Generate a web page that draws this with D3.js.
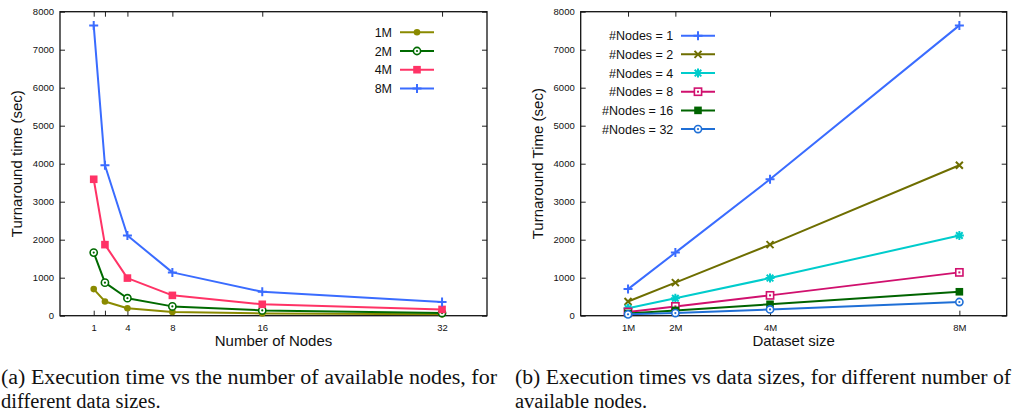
<!DOCTYPE html>
<html>
<head>
<meta charset="utf-8">
<script src="https://cdn.jsdelivr.net/npm/d3@7"></script>
<style>
  html, body { margin: 0; padding: 0; background: #fff; }
  svg { display: block; }
  .tick text { font-family: "Liberation Sans", Arial, sans-serif; }
</style>
</head>
<body>
<svg id="fig" width="1014" height="416"></svg>
<script>
// Cluster scaling measurements: turnaround time (sec) per dataset size and node count
const nodeCounts = [1, 2, 4, 8, 16, 32];
const datasetSizes = ["1M", "2M", "4M", "8M"];
const datasetSizeValues = [1, 2, 4, 8];
const time1M = [700, 375, 195, 100, 60, 35];
const time2M = [1660, 870, 460, 245, 140, 70];
const time4M = [3590, 1870, 990, 535, 300, 165];
const time8M = [7640, 3960, 2110, 1140, 630, 360];
const yTicks = [0, 1000, 2000, 3000, 4000, 5000, 6000, 7000, 8000];
const nodeTicks = [1, 2, 4, 8, 16, 32];
const nodeTickLabels = ["1", "", "4", "8", "16", "32"];
const sizeTickLabels = ["1M", "2M", "4M", "8M"];
const nodeLegendLabels = ["#Nodes = 1", "#Nodes = 2", "#Nodes = 4", "#Nodes = 8", "#Nodes = 16", "#Nodes = 32"];
const captionA = ["(a) Execution time vs the number of available nodes, for", "different data sizes."];
const captionB = ["(b) Execution times vs data sizes, for different number of", "available nodes."];

const timesBySize = [time1M, time2M, time4M, time8M];

const svg = d3.select("#fig");
const SANS = "'Liberation Sans', Arial, Helvetica, sans-serif";

// Marker symbols in the gnuplot style
function drawMarker(g, kind, x, y, color) {
  const s = g.append("g").attr("transform", `translate(${x},${y})`);
  if (kind === "dot") {
    s.append("circle").attr("r", 3.3).attr("fill", color);
  } else if (kind === "circleDot") {
    s.append("circle").attr("r", 3.6).attr("fill", "#fff").attr("stroke", color).attr("stroke-width", 1.6);
    s.append("circle").attr("r", 1.1).attr("fill", color);
  } else if (kind === "square") {
    s.append("rect").attr("x", -3.8).attr("y", -3.8).attr("width", 7.6).attr("height", 7.6).attr("fill", color);
  } else if (kind === "squareDot") {
    s.append("rect").attr("x", -3.6).attr("y", -3.6).attr("width", 7.2).attr("height", 7.2)
      .attr("fill", "#fff").attr("stroke", color).attr("stroke-width", 1.6);
    s.append("rect").attr("x", -1).attr("y", -1).attr("width", 2).attr("height", 2).attr("fill", color);
  } else if (kind === "plus") {
    s.append("path").attr("d", "M-4.5,0H4.5M0,-4.5V4.5").attr("stroke", color).attr("stroke-width", 2);
  } else if (kind === "cross") {
    s.append("path").attr("d", "M-3.5,-3.5L3.5,3.5M-3.5,3.5L3.5,-3.5").attr("stroke", color).attr("stroke-width", 2);
  } else if (kind === "star") {
    s.append("path").attr("d", "M-4.5,0H4.5M0,-4.5V4.5M-3.3,-3.3L3.3,3.3M-3.3,3.3L3.3,-3.3")
      .attr("stroke", color).attr("stroke-width", 2);
  }
}

function drawPanel(cfg) {
  const g = svg.append("g");
  const x = d3.scaleLinear().domain(cfg.xDomain).range([cfg.left, cfg.right]);
  const y = d3.scaleLinear().domain([0, 8000]).range([cfg.bottom, cfg.top]);
  const tickLen = 5;

  // axes: labelled on bottom/left, mirrored tick marks on top/right
  const fmtX = d => cfg.xLabels[cfg.xTicks.indexOf(d)];
  const gx = g.append("g").attr("transform", `translate(0,${cfg.bottom})`)
    .call(d3.axisBottom(x).tickValues(cfg.xTicks).tickFormat(fmtX).tickSizeInner(-tickLen).tickSizeOuter(0).tickPadding(9));
  const gxt = g.append("g").attr("transform", `translate(0,${cfg.top})`)
    .call(d3.axisTop(x).tickValues(cfg.xTicks).tickFormat("").tickSizeInner(-tickLen).tickSizeOuter(0));
  const gy = g.append("g").attr("transform", `translate(${cfg.left},0)`)
    .call(d3.axisLeft(y).tickValues(yTicks).tickFormat(d3.format("d")).tickSizeInner(-tickLen).tickSizeOuter(0).tickPadding(6));
  const gyr = g.append("g").attr("transform", `translate(${cfg.right},0)`)
    .call(d3.axisRight(y).tickValues(yTicks).tickFormat("").tickSizeInner(-tickLen).tickSizeOuter(0));
  [gx, gxt, gy, gyr].forEach(a => {
    a.select(".domain").remove();
    a.selectAll(".tick line").attr("stroke", "#222").attr("stroke-width", 1);
    a.selectAll(".tick text").attr("font-size", 9.5).attr("fill", "#111").attr("font-family", SANS);
  });

  // frame
  g.append("rect").attr("x", cfg.left).attr("y", cfg.top)
    .attr("width", cfg.right - cfg.left).attr("height", cfg.bottom - cfg.top)
    .attr("fill", "none").attr("stroke", "#111").attr("stroke-width", 1.3);

  // axis titles
  g.append("text").attr("x", (cfg.left + cfg.right) / 2).attr("y", 346)
    .attr("text-anchor", "middle").attr("font-family", SANS).attr("font-size", 15).attr("fill", "#111")
    .text(cfg.xTitle);
  g.append("text").attr("transform", `translate(${cfg.yTitleX},${(cfg.top + cfg.bottom) / 2}) rotate(-90)`)
    .attr("text-anchor", "middle").attr("font-family", SANS).attr("font-size", 15).attr("fill", "#111")
    .text(cfg.yTitle);

  // series
  const line = d3.line().x(d => x(d[0])).y(d => y(d[1]));
  cfg.series.forEach(s => {
    g.append("path").datum(s.points).attr("d", line)
      .attr("fill", "none").attr("stroke", s.color).attr("stroke-width", 2).attr("stroke-linejoin", "round");
    s.points.forEach(p => drawMarker(g, s.marker, x(p[0]), y(p[1]), s.color));
  });

  // legend
  cfg.series.forEach((s, i) => {
    const ly = cfg.legend.y0 + i * cfg.legend.dy;
    g.append("text").attr("x", cfg.legend.textRight).attr("y", ly).attr("dy", "0.36em")
      .attr("text-anchor", "end").attr("font-family", SANS).attr("font-size", 12.5).attr("fill", "#111")
      .text(s.label);
    g.append("line").attr("x1", cfg.legend.lineX0).attr("x2", cfg.legend.lineX1)
      .attr("y1", ly).attr("y2", ly).attr("stroke", s.color).attr("stroke-width", 2);
    drawMarker(g, s.marker, (cfg.legend.lineX0 + cfg.legend.lineX1) / 2, ly, s.color);
  });
}

// (a) time vs number of nodes, one line per dataset size
const sizeColors = ["#8a8a00", "#006a00", "#ff3366", "#3a6cff"];
const sizeMarkers = ["dot", "circleDot", "square", "plus"];
drawPanel({
  left: 60, right: 487, top: 11.7, bottom: 315.7,
  xDomain: [-2, 36], xTicks: nodeTicks, xLabels: nodeTickLabels,
  xTitle: "Number of Nodes", yTitle: "Turnaround time (sec)", yTitleX: 22,
  legend: { y0: 32.3, dy: 18.7, textRight: 392, lineX0: 400, lineX1: 434 },
  series: datasetSizes.map((lab, i) => ({
    label: lab, color: sizeColors[i], marker: sizeMarkers[i],
    points: nodeCounts.map((n, j) => [n, timesBySize[i][j]])
  }))
});

// (b) time vs dataset size, one line per node count
const nodeColors = ["#3a6cff", "#6e6e00", "#00cccc", "#d0106e", "#006400", "#1f6fd6"];
const nodeMarkers = ["plus", "cross", "star", "squareDot", "square", "circleDot"];
drawPanel({
  left: 580.7, right: 1006.7, top: 11.7, bottom: 315.7,
  xDomain: [0, 9], xTicks: datasetSizeValues, xLabels: sizeTickLabels,
  xTitle: "Dataset size", yTitle: "Turnaround Time (sec)", yTitleX: 543,
  legend: { y0: 35.7, dy: 18.67, textRight: 673.3, lineX0: 681, lineX1: 715 },
  series: nodeCounts.map((n, j) => ({
    label: nodeLegendLabels[j], color: nodeColors[j], marker: nodeMarkers[j],
    points: datasetSizeValues.map((v, i) => [v, timesBySize[i][j]])
  }))
});

// sub-figure captions
function caption(lines, x0, widths) {
  lines.forEach((t, i) => {
    const el = svg.append("text").attr("x", x0).attr("y", 384 + i * 24)
      .attr("font-family", "'Liberation Serif', 'Times New Roman', serif").attr("font-size", 20.5)
      .attr("fill", "#111").text(t);
    if (widths[i]) el.attr("textLength", widths[i]).attr("lengthAdjust", "spacingAndGlyphs");
  });
}
caption(captionA, 1, [496, 0]);
caption(captionB, 515, [496, 0]);
</script>
</body>
</html>
